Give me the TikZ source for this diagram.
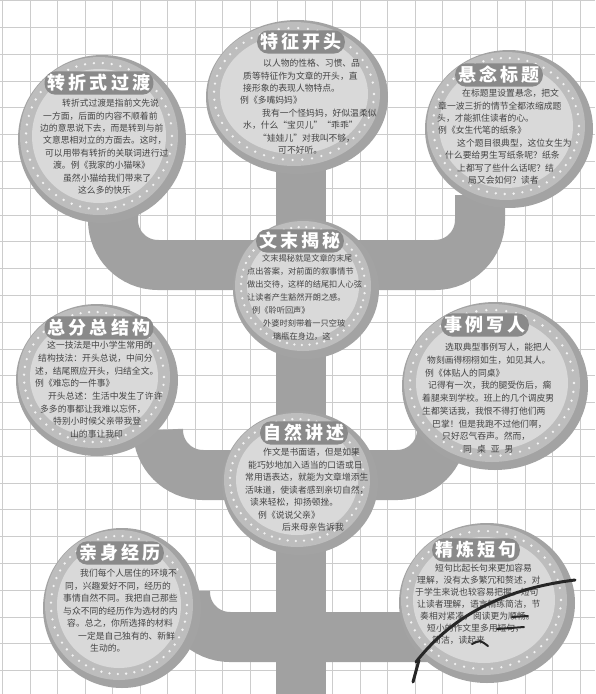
\documentclass[tikz,border=0pt]{standalone}
\usepackage{fontspec}
\setmainfont{Noto Sans CJK SC}
\newfontfamily\ttlfont[LetterSpace=18]{Noto Sans CJK SC}
\definecolor{branchgray}{HTML}{A1A1A1}
\definecolor{discdark}{HTML}{A3A3A3}
\definecolor{discmid}{HTML}{BDBDBD}
\definecolor{discin}{HTML}{D9D9D9}
\definecolor{dotcol}{HTML}{F2F2F2}
\definecolor{ttlgray}{HTML}{8A8A8A}
\definecolor{bodygray}{HTML}{444444}
\tikzset{
  gridline/.style={draw=black!20, line width=0.8pt},
  branch/.style={draw=branchgray, line width=50pt, rounded corners=45pt},
  ttl/.style={fill=ttlgray, text=white, rounded corners=11pt, inner xsep=3pt, inner ysep=3pt,
    font=\ttlfont\bfseries\fontsize{18}{18}\selectfont},
  body/.style={anchor=north west, inner sep=0pt, align=left, text=bodygray,
    font=\fontsize{8.8}{12.4}\selectfont},
  scribble/.style={draw=black!85, line width=3pt, line cap=round},
}
\newcommand\disc[5]{%
  \coordinate (#1) at (#2,#3);
  \fill[discdark] (#2,#3) ellipse [x radius=#4pt, y radius=#5pt];
  \fill[discmid] (#2-3,#3-3) ellipse [x radius=#4pt-5pt, y radius=#5pt-5pt];
  \foreach \a in {0,7,...,353}{\fill[dotcol] ({#2-3+(#4-11)*cos(\a)},{#3-3+(#5-11)*sin(\a)}) circle [radius=1.3pt];}
  \fill[discin] (#2-3,#3-3) ellipse [x radius=#4pt-17pt, y radius=#5pt-17pt];
}
\begin{document}
\begin{tikzpicture}[x=1pt,y=-1pt]
\useasboundingbox (0,0) rectangle (595,694);
\fill[white] (0,0) rectangle (595,694);
% grid
\foreach \i in {0,...,21} {\draw[gridline] ({2.7+27.5*\i},0) -- ({2.7+27.5*\i},694);}
\foreach \i in {0,...,25} {\draw[gridline] (0,{0.5+26.8*\i}) -- (595,{0.5+26.8*\i});}
% tree
\draw[branch] (301,150) -- (301,694);
\draw[branch] (113,195) -- (113,265) -- (480,265) -- (480,195);
\draw[branch] (158,430) -- (158,475) -- (442,475) -- (442,430);
\draw[branch] (185,595) -- (185,637) -- (430,637);
% discs
\disc{d1}{102}{139}{84}{84}
\disc{d2}{297}{97}{91}{77}
\disc{d3}{509}{129}{84}{79}
\disc{d4}{306}{289}{73}{70}
\disc{d5}{97}{380}{81}{76}
\disc{d6}{495}{386}{93}{84}
\disc{d7}{300}{483}{78}{72}
\disc{d8}{122}{608}{79}{80}
\disc{d9}{487}{603}{88}{80}
% titles
\node[ttl] (t1) at (99,83) {转折式过渡};
\node[ttl] (t2) at (301,42) {特征开头};
\node[ttl] (t3) at (499,75) {悬念标题};
\node[ttl] (t4) at (300,241) {文末揭秘};
\node[ttl] (t5) at (99,328) {总分总结构};
\node[ttl] (t6) at (485,325) {事例写人};
\node[ttl] (t7) at (304,433) {自然讲述};
\node[ttl] (t8) at (120,553) {亲身经历};
\node[ttl] (t9) at (476,550) {精炼短句};
% bodies
\node[body] (b1) at (40,99) {\hspace*{22pt}转折式过渡是指前文先说\\
\hspace*{3pt}一方面，后面的内容不顺着前\\
边的意思说下去，而是转到与前\\
\hspace*{3pt}文意思相对立的方面去。这时，\\
\hspace*{5pt}可以用带有转折的关联词进行过\\
\hspace*{13pt}渡。例《我家的小猫咪》\\
\hspace*{23pt}虽然小猫给我们带来了\\
\hspace*{38pt}这么多的快乐};
\node[body] (b2) at (240,59) {\hspace*{23pt}以人物的性格、习惯、品\\
\hspace*{3pt}质等特征作为文章的开头，直\\
\hspace*{3pt}接形象的表现人物特点。\\
例《多嘴妈妈》\\
\hspace*{22pt}我有一个怪妈妈，好似温柔似\\
\hspace*{3pt}水，什么“宝贝儿”“乖乖”\\
\hspace*{18pt}“娃娃儿”对我叫不够，\\
\hspace*{38pt}可不好听。};
\node[body] (b3) at (437,89) {\hspace*{25pt}在标题里设置悬念，把文\\
\hspace*{1pt}章一波三折的情节全都浓缩成题\\
头，才能抓住读者的心。\\
\hspace*{1pt}例《女生代笔的纸条》\\
\hspace*{20pt}这个题目很典型，这位女生为\\
\hspace*{8pt}什么要给男生写纸条呢？纸条\\
\hspace*{20pt}上都写了些什么话呢？结\\
\hspace*{31pt}局又会如何？读者};
\node[body, font=\fontsize{8.2}{13}\selectfont] (b4) at (247,254) {\hspace*{15pt}文末揭秘就是文章的末尾\\
点出答案，对前面的叙事情节\\
做出交待，这样的结尾扣人心弦\\
让读者产生豁然开朗之感。\\
\hspace*{5pt}例《聆听回声》\\
\hspace*{16pt}外婆时刻带着一只空玻\\
\hspace*{26pt}璃瓶在身边，这};
\node[body, font=\fontsize{8.8}{12.7}\selectfont] (b5) at (35,341) {\hspace*{12pt}这一技法是中小学生常用的\\
\hspace*{3pt}结构技法：开头总说，中间分\\
述，结尾照应开头，归结全文。\\
例《难忘的一件事》\\
\hspace*{13pt}开头总述：生活中发生了许许\\
\hspace*{5pt}多多的事都让我难以忘怀，\\
\hspace*{18pt}特别小时候父亲带我登\\
\hspace*{35pt}山的事让我印};
\node[body, font=\fontsize{8.8}{12.75}\selectfont] (b6) at (422,343) {\hspace*{23pt}选取典型事例写人，能把人\\
\hspace*{5pt}物刻画得栩栩如生，如见其人。\\
\hspace*{3pt}例《体贴人的同桌》\\
\hspace*{6pt}记得有一次，我的腿受伤后，瘸\\
着腿来到学校。班上的几个调皮男\\
生都笑话我，我恨不得打他们两\\
\hspace*{10pt}巴掌！但是我跑不过他们啊，\\
\hspace*{20pt}只好忍气吞声。然而，\\
\hspace*{41pt}同\hspace{5pt}桌\hspace{5pt}亚\hspace{5pt}男};
\node[body, font=\fontsize{8.8}{12.5}\selectfont] (b7) at (245,448) {\hspace*{18pt}作文是书面语，但是如果\\
\hspace*{3pt}能巧妙地加入适当的口语或日\\
常用语表达，就能为文章增添生\\
活味道，使读者感到亲切自然，\\
\hspace*{5pt}读来轻松，抑扬顿挫。\\
\hspace*{13pt}例《说说父亲》\\
\hspace*{37pt}后来母亲告诉我};
\node[body, font=\fontsize{8.8}{12.5}\selectfont] (b8) at (63,569) {\hspace*{17pt}我们每个人居住的环境不\\
\hspace*{2pt}同，兴趣爱好不同，经历的\\
事情自然不同。我把自己那些\\
与众不同的经历作为选材的内\\
\hspace*{4pt}容。总之，你所选择的材料\\
\hspace*{15pt}一定是自己独有的、新鲜\\
\hspace*{27pt}生动的。};
\node[body, font=\fontsize{8.8}{12}\selectfont] (b9) at (415,564) {\hspace*{20pt}短句比起长句来更加容易\\
\hspace*{2pt}理解，没有太多繁冗和赘述，对\\
于学生来说也较容易把握。短句\\
\hspace*{2pt}让读者理解，语言精练简洁，节\\
\hspace*{5pt}奏相对紧凑，阅读更为顺畅。\\
\hspace*{12pt}短小的作文里多用短句，\\
\hspace*{17pt}简洁，读起来};
% pen marks
\draw[scribble] (416,662) .. controls (455,612) and (510,588) .. (575,580);
\draw[scribble] (419,660) -- (413,682);
\draw[scribble, line width=2pt] (512,617) -- (528,616);
\draw[scribble, line width=2pt] (497,629) -- (524,627);
\draw[scribble, line width=2pt] (472,644) .. controls (480,640) .. (488,646);
\end{tikzpicture}
\end{document}
